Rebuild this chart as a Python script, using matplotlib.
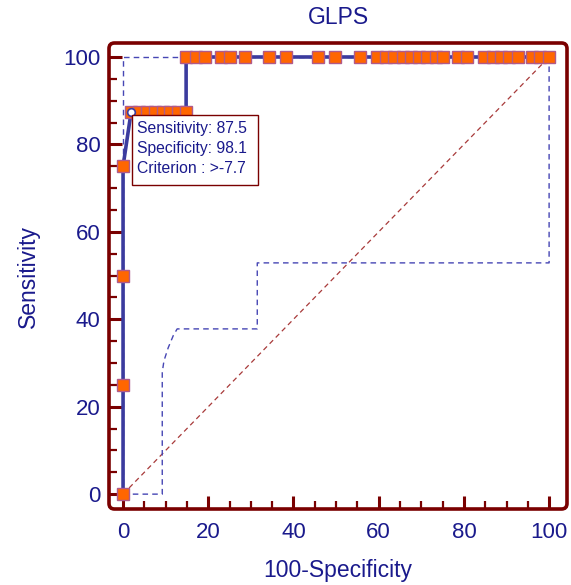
import matplotlib
matplotlib.use("Agg")
import matplotlib.pyplot as plt
from matplotlib.patches import FancyBboxPatch, Rectangle
from matplotlib.ticker import MultipleLocator

plt.rcParams['font.family'] = ['Liberation Sans', 'DejaVu Sans']

# ROC curve points (100-Specificity, Sensitivity)
roc_x = [0, 0, 0, 0,
         1.9, 3.7, 5.6, 7.4, 9.3, 11.1, 13.0, 14.8,
         14.8, 17.1, 19.2, 22.9, 25.0, 28.6, 34.3, 38.3, 45.8, 49.8,
         55.6, 59.6, 61.7, 63.6, 65.7, 67.6, 69.5, 71.4, 73.5, 75.1,
         78.6, 80.8, 84.8, 86.8, 88.7, 90.7, 92.7, 96.0, 97.9, 100]
roc_y = [0, 25, 50, 75] + [87.5] * 8 + [100] * 30

# confidence bounds
upper_x = [0, 0, 14.8, 100]
upper_y = [0, 100, 100, 100]
lower_x = [0, 9.2, 9.2, 9.6, 10.6, 11.8, 12.7, 31.5, 31.5, 100, 100]
lower_y = [0, 0, 27.9, 30.5, 33.5, 36.3, 37.8, 37.8, 52.9, 52.9, 100]

# chosen criterion
crit_x, crit_y = 1.9, 87.5
crit_lines = ["Sensitivity: 87.5", "Specificity: 98.1", "Criterion : >-7.7"]

xticks = [0, 20, 40, 60, 80, 100]
yticks = [0, 20, 40, 60, 80, 100]

maroon = "#7a0000"
navy = "#1a1a8c"
roc_col = "#3b3b9e"

fig = plt.figure(figsize=(5.71, 5.85), dpi=100)
ax = fig.add_axes([109 / 571, 76 / 585, 458 / 571, 466 / 585])

ax.plot([0, 100], [0, 100], color="#a83a3a", lw=0.9, ls=(0, (4, 3)), zorder=1)
ax.plot(upper_x, upper_y, color="#4646b4", lw=1.0, ls=(0, (4, 3)), zorder=2)
ax.plot(lower_x, lower_y, color="#4646b4", lw=1.0, ls=(0, (4, 3)), zorder=2)

ax.plot(roc_x, roc_y, color=roc_col, lw=2.6, zorder=3)
ax.plot(roc_x, roc_y, ls="none", marker="s", ms=8, mfc="#ff6600",
        mec="#b05a8a", mew=1.0, zorder=4)
ax.plot([crit_x], [crit_y], ls="none", marker="o", ms=5.5, mfc="white",
        mec=roc_col, mew=1.2, zorder=5)

# criterion box
ax.add_patch(Rectangle((2.1, 70.7), 29.6, 16.0, facecolor="white",
                       edgecolor=maroon, lw=1.0, zorder=6))
for i, s in enumerate(crit_lines):
    ax.text(3.2, 83.6 - i * 4.6, s, color=navy, fontsize=11.3,
            va="center", ha="left", zorder=7)

ax.set_xlim(-3.3, 104.2)
ax.set_ylim(-3.4, 103.2)
ax.set_xticks(xticks)
ax.set_yticks(yticks)
ax.xaxis.set_minor_locator(MultipleLocator(5))
ax.yaxis.set_minor_locator(MultipleLocator(5))
ax.tick_params(which="both", direction="in", color=maroon, labelcolor=navy,
               labelsize=16, top=False, right=False)
ax.tick_params(axis="x", which="major", length=9.5, width=2.2, pad=9)
ax.tick_params(axis="y", which="major", length=9.5, width=2.2, pad=6)
ax.tick_params(which="minor", length=5.5, width=1.6)

for sp in ax.spines.values():
    sp.set_visible(False)
frame = FancyBboxPatch((0, 0), 1, 1, boxstyle="round,pad=0,rounding_size=0.012",
                       transform=ax.transAxes, facecolor="none",
                       edgecolor=maroon, lw=2.6, clip_on=False, zorder=10)
ax.add_patch(frame)

ax.set_title("GLPS", color=navy, fontsize=16.5, pad=14)
ax.set_xlabel("100-Specificity", color=navy, fontsize=16.5, labelpad=12)
ax.set_ylabel("Sensitivity", color=navy, fontsize=16.5, labelpad=17)

fig.savefig("out.png", dpi=100)
